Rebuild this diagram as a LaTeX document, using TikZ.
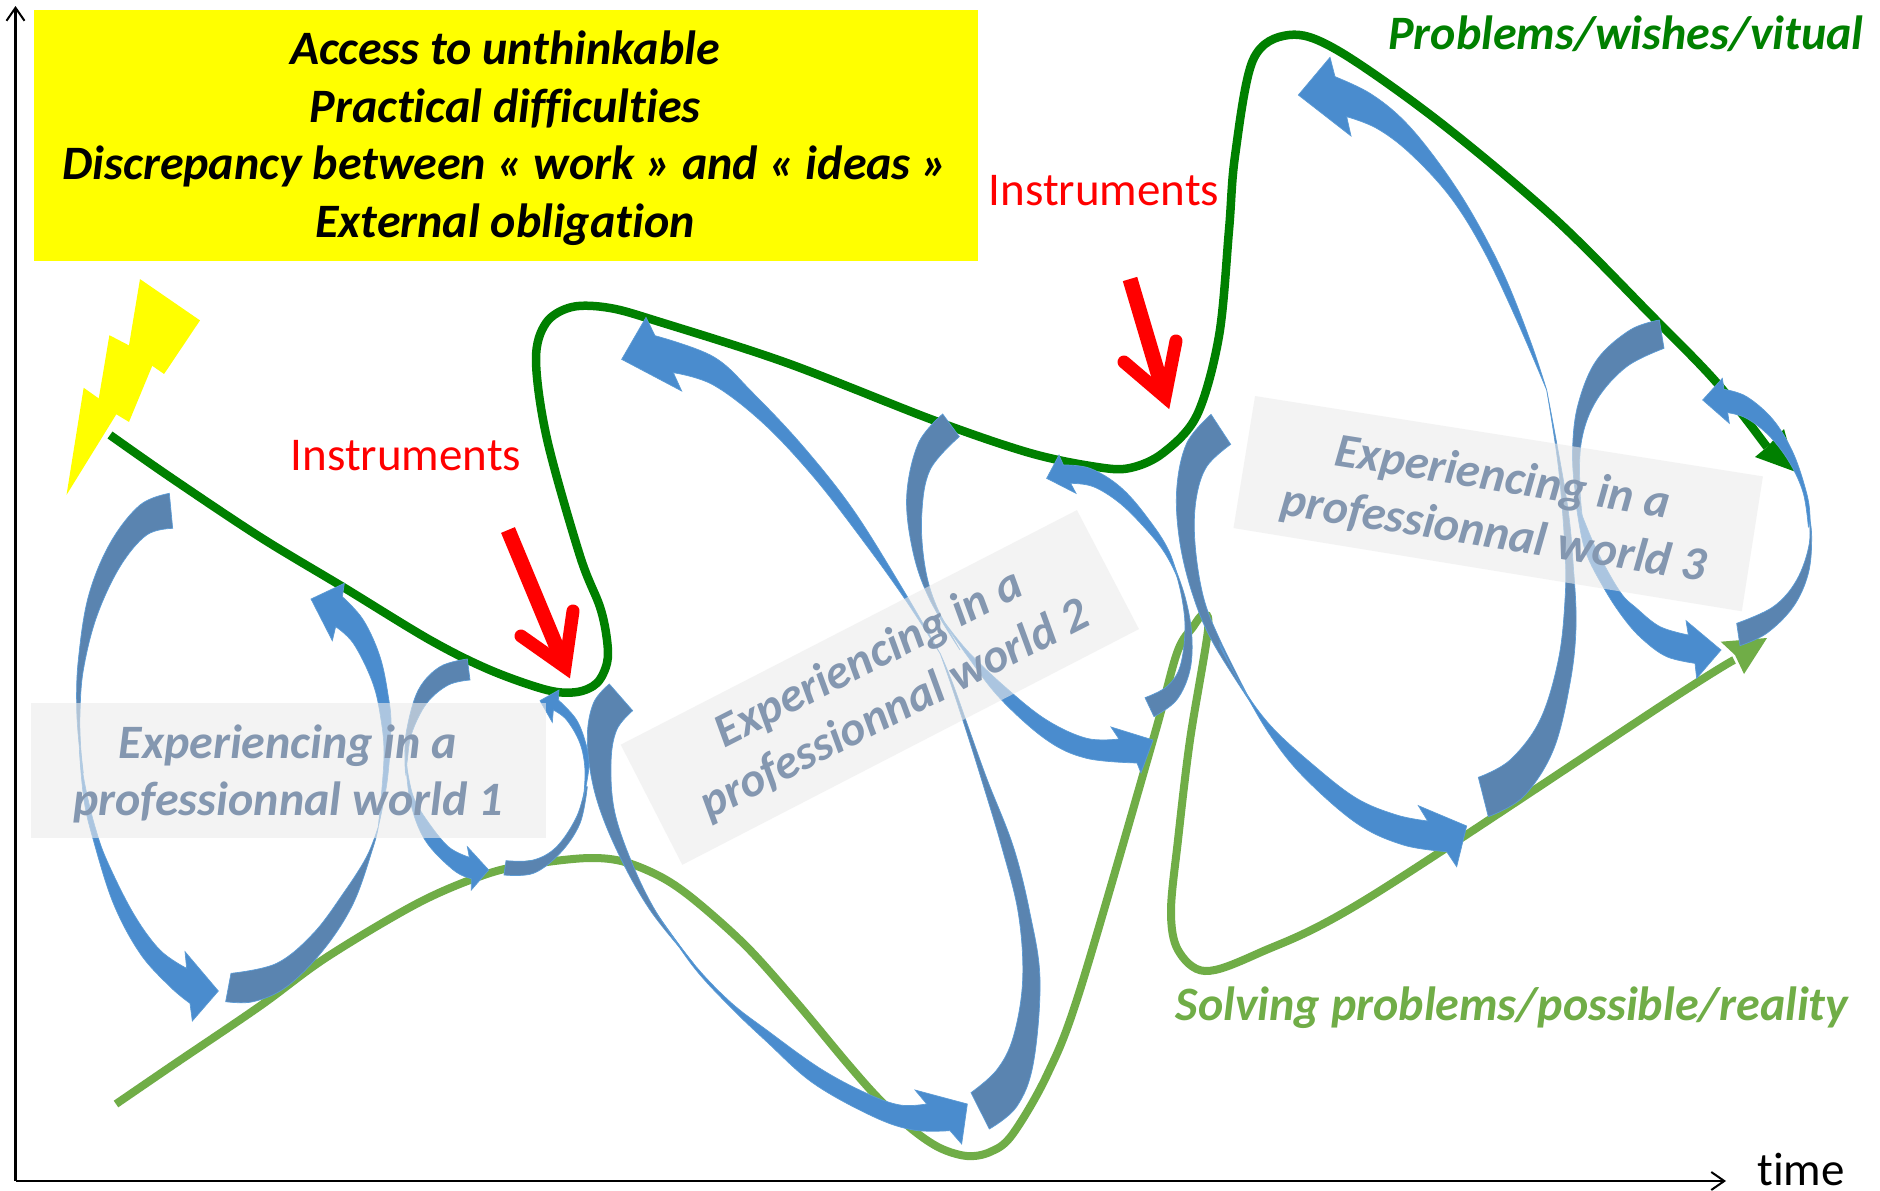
\documentclass[tikz,border=0pt]{standalone}
\usepackage{fontspec}
\setmainfont{Carlito}[Ligatures={NoCommon}]
\usetikzlibrary{arrows.meta}
\definecolor{tailblue}{HTML}{5A84B0}
\definecolor{headblue}{HTML}{4A8CCE}
\definecolor{edgeblue}{HTML}{5B9BD5}
\definecolor{darkgr}{HTML}{008000}
\definecolor{lightgr}{HTML}{70AD47}
\definecolor{paneltext}{HTML}{8497B0}
\definecolor{panelfill}{HTML}{ECECEC}
\definecolor{pureyellow}{HTML}{FFFF00}
\definecolor{purered}{HTML}{FF0000}
\tikzset{
  z1/.style={shift={(0,250)},x=0.40816pt,y=-0.51020pt},
  z2/.style={shift={(560,280)},x=0.43367pt,y=-0.56122pt},
  z3/.style={shift={(1160,0)},x=0.45918pt,y=-0.57398pt},
  qa/.style={shift={(580,680)},x=0.33333pt,y=-0.33333pt},
  qb/.style={shift={(620,310)},x=0.33333pt,y=-0.33333pt},
  qc/.style={shift={(1170,400)},x=0.33333pt,y=-0.33333pt},
  qd/.style={shift={(1270,40)},x=0.33333pt,y=-0.33333pt},
  qe/.style={shift={(60,480)},x=0.33333pt,y=-0.33333pt},
  qf/.style={shift={(60,700)},x=0.33333pt,y=-0.33333pt},
  qg/.style={shift={(390,640)},x=0.33333pt,y=-0.33333pt},
  qh/.style={shift={(1560,370)},x=0.33333pt,y=-0.33333pt},
  qi/.style={shift={(1030,440)},x=0.33333pt,y=-0.33333pt},
  axis/.style={draw=black,line width=2.6pt,-{Straight Barb[length=13pt,width=18pt,line width=2pt]}},
  curvedark/.style={draw=darkgr,line width=8.5pt,line cap=butt},
  curvelight/.style={draw=lightgr,line width=8pt,line cap=butt},
  tailpart/.style={fill=tailblue,draw=edgeblue,line width=0.7pt},
  headpart/.style={fill=headblue,draw=edgeblue,line width=0.7pt},
  panel/.style={fill=panelfill,fill opacity=0.6},
  paneltxt/.style={text=paneltext,font=\fontsize{48}{57}\selectfont\bfseries\itshape,align=center},
  boxtxt/.style={text=black,font=\fontsize{48}{57.5}\selectfont\bfseries\itshape,align=center},
  instr/.style={text=purered,font=\fontsize{47}{54}\selectfont},
  redshaft/.style={draw=purered,line width=15pt,line cap=butt},
  redhead/.style={draw=purered,line width=13pt,line cap=round,line join=miter},
}
\newcommand{\tailrib}[2]{\path[tailpart] plot[smooth,tension=0.6] coordinates {#1} -- plot[smooth,tension=0.6] coordinates {#2} -- cycle;}
\newcommand{\headrib}[3]{\path[headpart] plot[smooth,tension=0.6] coordinates {#1} -- #2 -- plot[smooth,tension=0.6] coordinates {#3} -- cycle;}
\begin{document}
\begin{tikzpicture}[x=1pt,y=-1pt]
\useasboundingbox (0,0) rectangle (1880,1191);
\fill[white] (0,0) rectangle (1880,1191);
% axes
\coordinate (origin) at (15.5,1181);
\coordinate (ytop) at (15.5,6);
\coordinate (xend) at (1726,1181);
\draw[axis] (origin) -- (ytop);
\draw[axis] (origin) -- (xend);
\node (timelabel) at (1801,1169) {\fontsize{47}{54}\selectfont time};
% yellow box
\fill[pureyellow] (34,10) rectangle (978,261);
\node[boxtxt] (boxtext) at (505,138) {Access to unthinkable\\Practical difficulties\\Discrepancy between « work » and « ideas »\\External obligation};
% lightning
\begin{scope}[z1]
\fill[pureyellow] (343,57) -- (490,138) -- (402,243) -- (373,227) -- (316,337) -- (285,322) -- (163,480) -- (205,270) -- (242,291) -- (268,167) -- (316,187) -- cycle;
\end{scope}
% green curves
\draw[curvelight] plot[smooth,tension=0.55] coordinates {(116,1104) (173,1065) (260,1006) (327,957) (420,902) (490,873) (540,863) (590,858) (625,862) (663,878) (697,902) (747,947) (797,1003) (847,1063) (880,1100) (913,1130) (940,1148) (967,1156) (990,1152) (1012,1135) (1047,1075) (1080,990) (1153,740) (1177,653) (1193,627) (1203,615) (1208,630) (1190,740) (1178,840) (1171,911) (1178,950) (1205,971) (1259,953) (1370,897) (1670,700) (1734,660)};
\fill[lightgr] (1767,638) -- (1720.7,641.7) -- (1735,655) -- (1744,674) -- cycle;
\draw[curvedark] plot[smooth,tension=0.55] coordinates {(110,435) (170,477) (260,537) (343,587) (430,640) (490,670) (547,690) (577,692) (597,683) (607,663) (607,640) (600,607) (580,556) (547,439) (536,360) (546,323) (572,307) (610,308) (660,322) (787,363) (933,420) (1030,453) (1097,467) (1130,468) (1163,453) (1197,415) (1219,336) (1229,230) (1235,156) (1253,60) (1289,35) (1337,50) (1437,120) (1553,217) (1653,317) (1717,383) (1767,447)};
\fill[darkgr] (1796,472) -- (1755,457) -- (1767,447) -- (1784,429) -- cycle;
% ribbons, world 1
\begin{scope}[qe]
\tailrib{(328,40) (240,75) (150,190) (85,350) (55,540) (50,680) (58,800) (70,880)}{(70,880) (62,800) (60,700) (70,570) (110,410) (180,260) (260,165) (338,145)}
\headrib{(955,1040) (982,900) (993,740) (985,650) (960,530) (910,420) (847,350)}{(853,310) -- (753,357) -- (817,482)}{(827,440) (880,490) (935,600) (960,700) (972,830) (955,1040)}
\end{scope}
\begin{scope}[qf]
\headrib{(58,150) (72,300) (100,420) (160,610) (240,760) (330,860) (390,910)}{(397,963) -- (475,873) -- (375,755)}{(380,805) (300,750) (220,640) (140,480) (105,380) (80,280) (65,200)}
\tailrib{(497,905) (580,905) (680,860) (790,750) (880,610) (940,440) (955,380)}{(955,380) (920,470) (850,580) (760,700) (650,790) (513,820)}
\end{scope}
\begin{scope}[qg]
\tailrib{(232,57) (150,80) (85,150) (50,270) (45,360) (47,400)}{(47,400) (52,360) (65,280) (110,190) (175,135) (240,120)}
\headrib{(45,330) (60,480) (105,600) (190,690) (244,716)}{(244,750) -- (296,690) -- (232,620)}{(238,652) (175,620) (110,540) (70,470) (52,390)}
\tailrib{(342,705) (430,700) (510,640) (570,550) (592,440)}{(586,440) (560,530) (500,620) (430,660) (348,662)}
\headrib{(580,480) (597,380) (590,320) (560,240) (505,180)}{(507,150) -- (450,182) -- (487,247)}{(490,210) (530,240) (570,310) (585,390) (580,480)}
\end{scope}
% ribbons, world 2
\begin{scope}[qa]
\tailrib{(88,12) (40,70) (22,180) (45,340) (110,510) (210,690) (340,850)}{(340,850) (240,715) (165,570) (105,400) (93,250) (110,150) (158,92)}
\headrib{(230,700) (340,860) (450,980) (560,1085) (700,1210) (880,1310) (1000,1350) (1110,1352)}{(1145,1392) -- (1162,1272) -- (1005,1230)}{(1040,1272) (960,1275) (860,1240) (720,1165) (560,1050) (450,965) (340,850) (230,700)}
\tailrib{(1228,1347) (1310,1280) (1360,1150) (1380,900) (1350,700) (1300,500) (1222,300) (1168,150) (1118,10) (1080,-81)}{(1080,-81) (1112,10) (1158,150) (1205,300) (1265,500) (1315,700) (1328,900) (1300,1070) (1250,1170) (1173,1238)}
\end{scope}
\begin{scope}[qb]
\headrib{(960,1030) (850,840) (700,600) (550,410) (400,250) (280,140) (105,77)}{(78,22) -- (5,148) -- (185,243)}{(160,188) (280,225) (430,340) (580,500) (720,680) (850,860) (960,1030)}
\tailrib{(968,312) (895,400) (860,560) (880,730) (930,870) (1020,1020)}{(1020,1020) (950,890) (915,770) (905,620) (930,480) (1018,380)}
\headrib{(950,905) (1040,1035) (1140,1165) (1280,1290) (1400,1345) (1551,1359)}{(1563,1389) -- (1599,1290) -- (1473,1251)}{(1497,1287) (1400,1285) (1280,1230) (1160,1135) (1040,1020) (950,905)}
\end{scope}
\begin{scope}[qi]
\headrib{(460,480) (420,340) (350,230) (270,140) (180,85) (100,75)}{(87,45) -- (50,115) -- (138,160)}{(122,130) (190,140) (270,190) (350,270) (405,340) (445,420) (460,480)}
\tailrib{(372,830) (440,780) (480,690) (485,580) (465,470) (430,370)}{(430,370) (455,470) (465,570) (450,680) (410,740) (345,773)}
\end{scope}
% ribbons, world 3
\begin{scope}[qc]
\tailrib{(123,43) (50,130) (20,270) (30,430) (70,590) (130,730) (250,920)}{(250,920) (150,720) (100,590) (75,430) (78,300) (110,200) (182,133)}
\headrib{(150,740) (215,860) (300,1005) (400,1130) (560,1270) (700,1335) (830,1355)}{(860,1400) -- (890,1278) -- (745,1217)}{(773,1263) (680,1245) (560,1195) (430,1095) (300,975) (210,850) (150,730)}
\tailrib{(955,1250) (1060,1190) (1150,1050) (1200,850) (1218,680) (1210,500) (1190,300) (1130,-30)}{(1130,-30) (1165,200) (1185,450) (1185,600) (1165,780) (1110,960) (1020,1080) (925,1132)}
\end{scope}
\begin{scope}[qd]
\headrib{(830,1050) (780,900) (700,700) (600,510) (500,360) (400,240) (300,160) (195,110)}{(180,52) -- (85,165) -- (243,288)}{(230,230) (320,265) (420,340) (540,470) (640,630) (740,840) (830,1050)}
\tailrib{(1168,840) (1080,870) (980,960) (925,1090) (908,1220) (915,1350) (945,1500)}{(945,1500) (930,1350) (935,1200) (980,1080) (1070,980) (1182,925)}
\end{scope}
\begin{scope}[qh]
\headrib{(48,400) (75,540) (135,660) (195,750) (250,810) (320,860) (405,880)}{(410,925) -- (483,840) -- (378,752)}{(385,795) (300,770) (230,715) (180,665) (110,540) (60,420)}
\tailrib{(540,827) (620,790) (700,710) (745,610) (755,500) (745,420)}{(745,420) (748,520) (710,630) (640,710) (530,760)}
\headrib{(745,470) (750,440) (740,370) (700,250) (640,150) (560,80) (492,58)}{(487,25) -- (428,90) -- (508,160)}{(503,128) (560,145) (630,200) (690,280) (730,370) (745,470)}
\end{scope}
% translucent panels
\fill[panel] (31,703) rectangle (546,838);
\begin{scope}[z2]
\fill[panel] (140,828) -- (1192,410) -- (1335,622) -- (282,1042) -- cycle;
\end{scope}
\begin{scope}[z3]
\fill[panel] (207,690) -- (1313,830) -- (1267,1065) -- (160,920) -- cycle;
\end{scope}
\node[paneltxt] (world1) at (288,774) {Experiencing in a\\professionnal world 1};
\node[paneltxt,rotate=27] (world2) at (882,685) {Experiencing in a\\professionnal world 2};
\node[paneltxt,rotate=-9] (world3) at (1498,507) {Experiencing in a\\professionnal world 3};
% labels
\node[instr] (instrA) at (406,456) {Instruments};
\node[instr] (instrB) at (1104,191) {Instruments};
\node[text=darkgr,font=\fontsize{48}{54}\selectfont\bfseries\itshape] (wishes) at (1626,34) {Problems/wishes/vitual};
\node[text=lightgr,font=\fontsize{48}{54}\selectfont\bfseries\itshape] (solving) at (1512,1008) {Solving problems/possible/reality};
% red arrows
\coordinate (ra0) at (508,530);
\coordinate (ra1) at (565,667);
\coordinate (ra2) at (521,636);
\coordinate (ra3) at (573,611);
\draw[redshaft] (ra0) -- (ra1);
\draw[redhead] (ra2) -- (ra1) -- (ra3);
\coordinate (rb0) at (1130,279);
\coordinate (rb1) at (1165,397);
\coordinate (rb2) at (1124,362);
\coordinate (rb3) at (1176,341);
\draw[redshaft] (rb0) -- (rb1);
\draw[redhead] (rb2) -- (rb1) -- (rb3);
\end{tikzpicture}
\end{document}
